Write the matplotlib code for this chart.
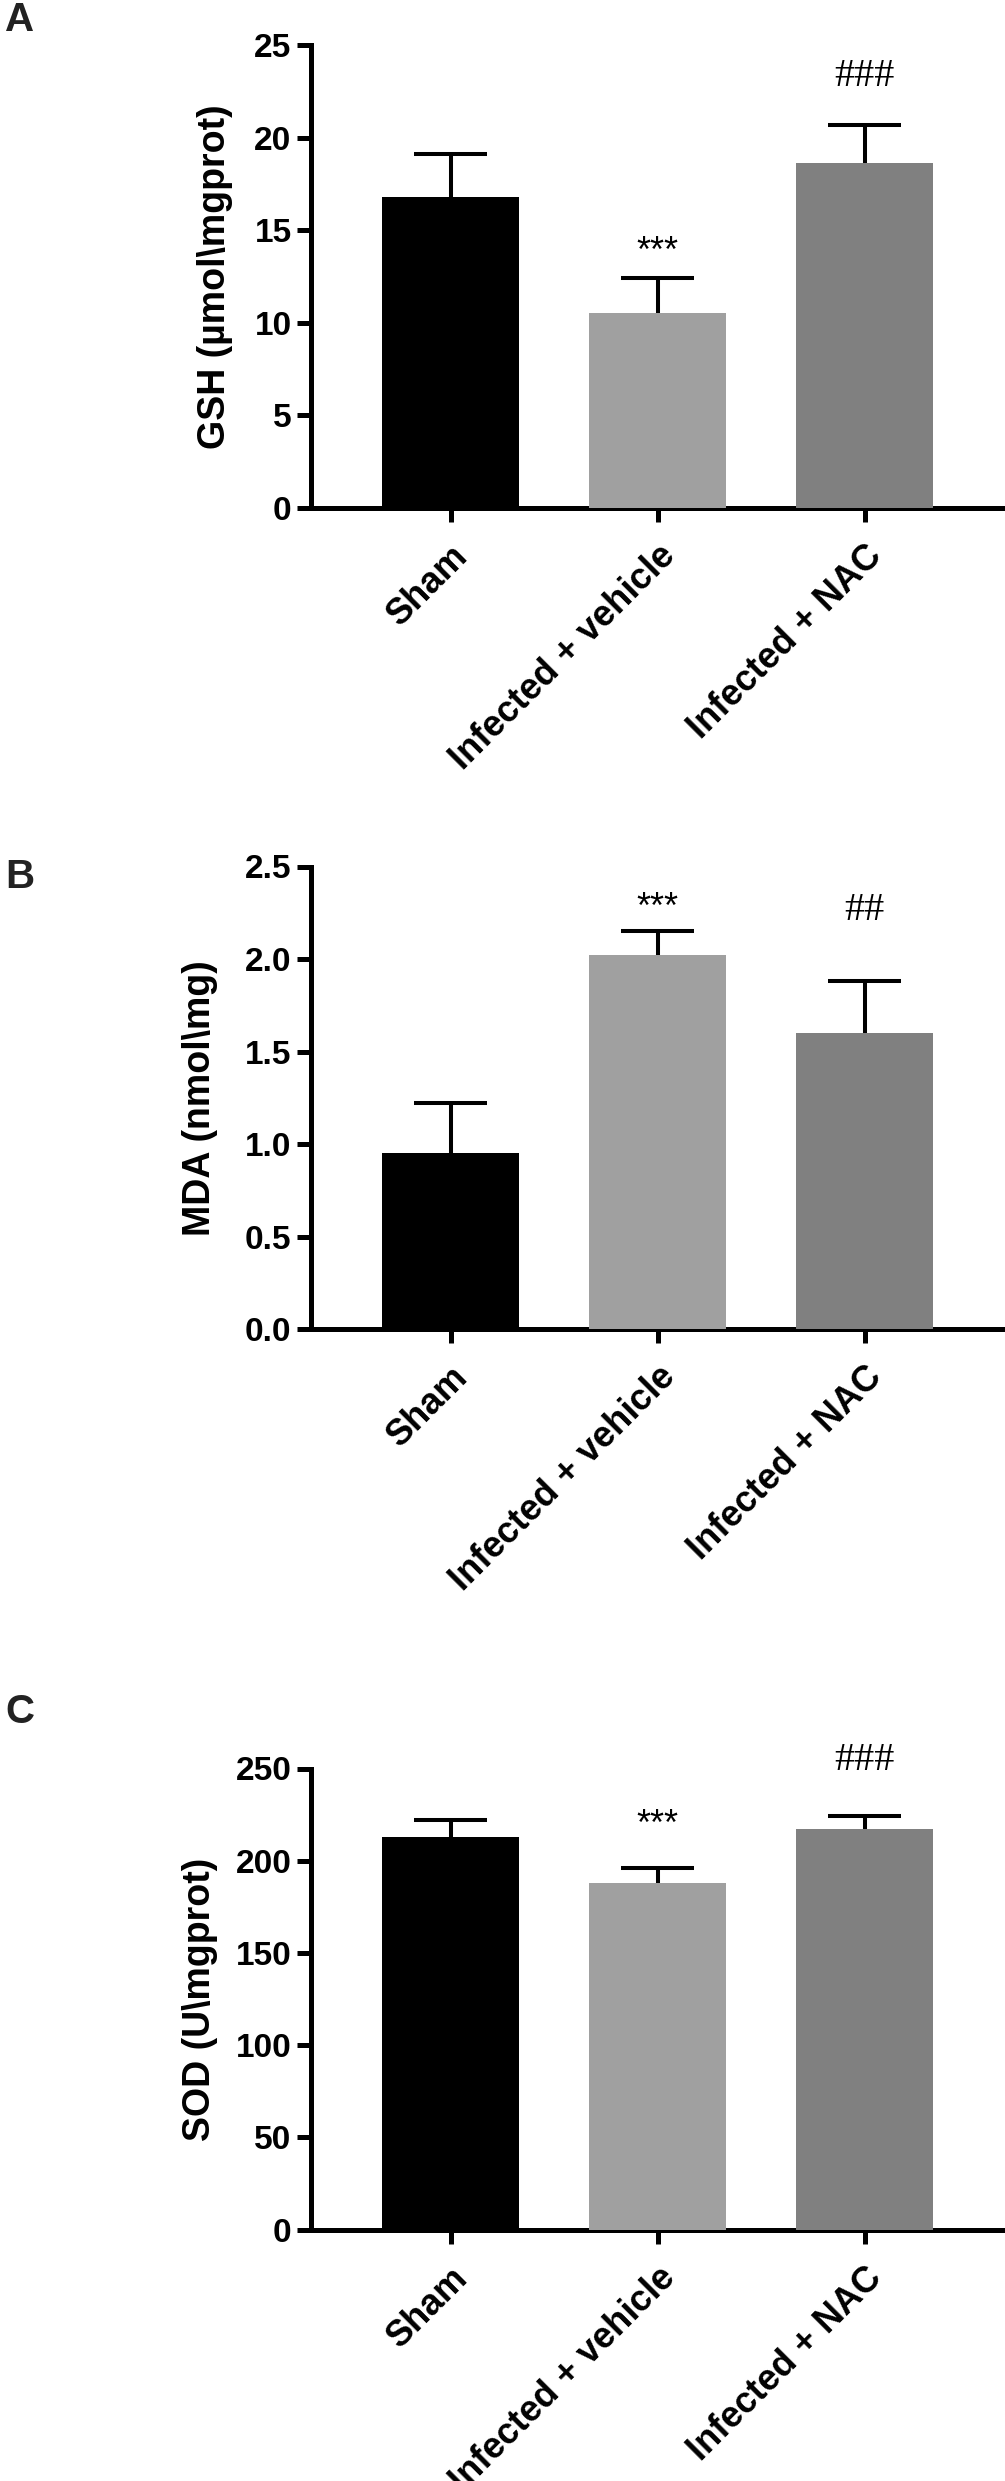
import numpy as np
import matplotlib
matplotlib.use("Agg")
import matplotlib.pyplot as plt

plt.rcParams['font.family'] = ['Liberation Sans', 'DejaVu Sans']
plt.rcParams['font.weight'] = 'bold'

# data (mean and SEM)
groups = ["Sham", "Infected + vehicle", "Infected + NAC"]
gsh_mean = [16.8, 10.5, 18.6]
gsh_sem = [2.3, 1.9, 2.1]
mda_mean = [0.95, 2.02, 1.60]
mda_sem = [0.27, 0.13, 0.28]
sod_mean = [213, 188, 217]
sod_sem = [9, 8, 7]
gsh_sig = ["", "***", "###"]
mda_sig = ["", "***", "##"]
sod_sig = ["", "***", "###"]

colors = ["#000000", "#a0a0a0", "#808080"]

W, H = 1005, 2481
fig = plt.figure(figsize=(W / 100, H / 100), dpi=100)

# (letter, ylabel, means, sems, sig, ylim, yticks, fmt, axes top/bottom px, letter baseline px, label x, sig heights)
panels = [
    ("A", "GSH (µmol\\mgprot)", gsh_mean, gsh_sem, gsh_sig, 25, np.arange(0, 26, 5), "{:.0f}",
     45, 507.7, 31, -0.113, [13.3, 22.8]),
    ("B", "MDA (nmol\\mg)", mda_mean, mda_sem, mda_sig, 2.5, np.arange(0, 2.6, 0.5), "{:.1f}",
     866.5, 1329, 888, -0.135, [2.22, 2.21]),
    ("C", "SOD (U\\mgprot)", sod_mean, sod_sem, sod_sig, 250, np.arange(0, 251, 50), "{:.0f}",
     1768.5, 2229.5, 1723, -0.135, [214, 249.4]),
]

x = np.arange(len(groups))
left_px, right_px = 311, 1002

for letter, ylabel, mean, sem, sig, ymax, yticks, fmt, top_px, bot_px, let_px, lab_x, sig_y in panels:
    ax = fig.add_axes([left_px / W, 1 - bot_px / H, (right_px - left_px) / W, (bot_px - top_px) / H])
    mean = np.array(mean, dtype=float)
    sem = np.array(sem, dtype=float)

    ax.bar(x, mean, width=0.66, color=colors, zorder=3)
    ax.vlines(x, mean, mean + sem, color="black", linewidth=2.9, zorder=2)
    ax.hlines(mean + sem, x - 0.175, x + 0.175, color="black", linewidth=2.9, zorder=2)

    # significance marks
    ax.text(x[1], sig_y[0], sig[1], ha="center", va="baseline", fontsize=26,
            fontweight="normal", family="Liberation Sans", clip_on=False)
    ax.text(x[2], sig_y[1], sig[2], ha="center", va="baseline", fontsize=29,
            fontweight="normal", family="Liberation Serif", clip_on=False)

    ax.set_xlim(-0.674, 2.664)
    ax.set_ylim(0, ymax)
    ax.set_yticks(yticks)
    ax.set_yticklabels([fmt.format(v) for v in yticks], fontsize=24, fontweight="bold")
    ax.set_xticks(x)
    ax.set_xticklabels(groups, rotation=45, ha="right", va="top", rotation_mode="anchor",
                       fontsize=26, fontweight="bold")

    for s in ["top", "right"]:
        ax.spines[s].set_visible(False)
    for s in ["left", "bottom"]:
        ax.spines[s].set_linewidth(3.6)
    ax.tick_params(axis="both", length=10, width=3.6, pad=4)
    ax.tick_params(axis="x", pad=12)

    ax.set_ylabel(ylabel, fontsize=27, fontweight="bold")
    ax.yaxis.set_label_coords(lab_x, 0.5)

    fig.text(5 / W, 1 - let_px / H, letter, fontsize=29, fontweight="bold",
             color="#222222", va="baseline", ha="left")

fig.savefig("out.png", dpi=100)
